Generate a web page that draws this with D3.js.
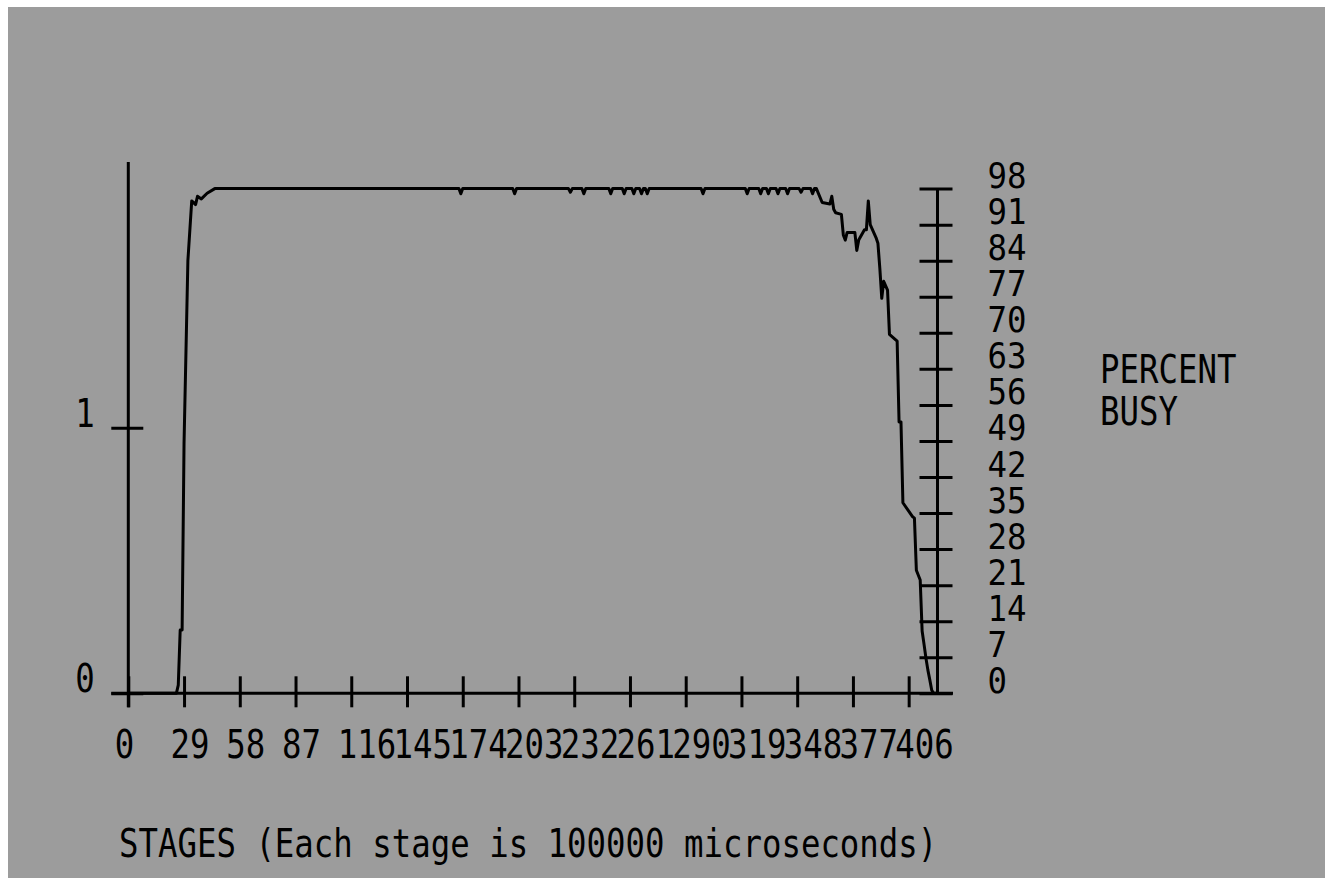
<!DOCTYPE html>
<html>
<head>
<meta charset="utf-8">
<script src="https://cdn.jsdelivr.net/npm/d3@7"></script>
<style>
html, body {margin: 0; padding: 0; background: #fff;}
svg {display: block;}
text {font-family: "DejaVu Sans Mono", monospace; font-size: 39px; fill: #000;}
.pct text {font-size: 36px;}
</style>
</head>
<body>
<svg id="chart" width="1333" height="885"></svg>
<script>
//tick values
var stageTicks = [0, 29, 58, 87, 116, 145, 174, 203, 232, 261, 290, 319, 348, 377, 406];
var percentTicks = [0, 7, 14, 21, 28, 35, 42, 49, 56, 63, 70, 77, 84, 91, 98];
var leftTicks = [0, 1];

//start of run: ramp up to the plateau
var rampStage = [0, 25, 26, 27, 28, 29, 31, 33, 35, 36, 38, 41, 45];
var rampBusy  = [0, 0, 1.6, 12.3, 12.3, 48.6, 84, 95.6, 94.9, 96.5, 96, 97.1, 98];

//plateau level and the small dips on it
var plateauBusy = 98;
var dipStage = [173, 201, 230, 237, 251, 258, 263, 267, 270, 299, 322, 329, 333, 338, 343, 350, 356];
var dipBusy  = [97, 97, 97.3, 97, 97, 97, 97, 97, 97, 97, 97, 97, 97, 97, 97, 97.3, 97];

//end of run: decline
var tailStage = [358, 361, 365, 366, 367, 368, 371, 372, 373, 374,
                 378, 379, 380, 383, 384, 385, 386, 389, 390, 391,
                 392, 393, 395, 396, 400, 401, 402, 403, 408, 409,
                 410, 412, 413, 414, 415, 416, 417, 418, 419, 421];
var tailBusy  = [98, 95.3, 95, 96.5, 94, 93.3, 93, 89, 88, 89.5,
                 89.5, 86, 88, 90, 90, 95.6, 91, 88.5, 87.4, 82.5,
                 76.7, 80, 78.3, 69.7, 68.4, 52.7, 52.7, 37, 34.3, 34,
                 23.9, 22, 12.1, 9.5, 6.8, 4.5, 2.6, 0.6, 0, 0];

var lastStage = 421;
var sx = 0.83; //horizontal squeeze for the narrow terminal font

var svg = d3.select('#chart');

//gray panel
svg.append('rect')
    .attr('x', 8).attr('y', 7)
    .attr('width', 1317).attr('height', 871)
    .attr('fill', '#9c9c9c');

//scales
var x = d3.scaleLinear().domain([0, lastStage]).range([128.3, 937.5]);
var yPct = d3.scaleLinear().domain([0, 98]).range([693.3, 188.6]);
var yLeft = d3.scaleLinear().domain([0, 2]).range([693.3, 162]);

//build line points
var points = rampStage.map((s, i) => [s, rampBusy[i]]);
dipStage.forEach(function(s, i){
  points.push([s - 1, plateauBusy], [s, dipBusy[i]], [s + 1, plateauBusy]);
});
tailStage.forEach((s, i) => points.push([s, tailBusy[i]]));

//x axis
var xAxis = svg.append('g')
    .attr('transform', `translate(0, ${yPct(0)})`)
    .call(d3.axisBottom(x).tickValues(stageTicks).tickFormat(d3.format('d')));
xAxis.select('.domain').remove();
xAxis.selectAll('.tick line')
    .attr('y1', -17).attr('y2', 14)
    .attr('stroke', '#000').attr('stroke-width', 3);
xAxis.selectAll('.tick text')
    .attr('y', null).attr('dy', null)
    .attr('text-anchor', 'start')
    .attr('transform', `translate(-14, 65) scale(${sx}, 1)`);
svg.append('line')
    .attr('x1', x(0) - 17).attr('x2', x(lastStage) + 15.5)
    .attr('y1', yPct(0)).attr('y2', yPct(0))
    .attr('stroke', '#000').attr('stroke-width', 3);

//left axis
var leftAxis = svg.append('g')
    .attr('transform', `translate(${x(0)}, 0)`)
    .call(d3.axisLeft(yLeft).tickValues(leftTicks).tickFormat(d3.format('d')));
leftAxis.select('.domain').remove();
leftAxis.selectAll('.tick line')
    .attr('x1', -17).attr('x2', 15)
    .attr('stroke', '#000').attr('stroke-width', 3);
leftAxis.selectAll('.tick text')
    .attr('x', null).attr('dy', null)
    .attr('text-anchor', 'start')
    .attr('transform', `translate(-53, -1.5) scale(${sx}, 1)`);
svg.append('line')
    .attr('x1', x(0)).attr('x2', x(0))
    .attr('y1', yLeft(2)).attr('y2', yPct(0) + 14)
    .attr('stroke', '#000').attr('stroke-width', 3);

//right axis, percent busy
var rightAxis = svg.append('g')
    .attr('class', 'pct')
    .attr('transform', `translate(${x(lastStage)}, 0)`)
    .call(d3.axisRight(yPct).tickValues(percentTicks).tickFormat(d3.format('d')));
rightAxis.select('.domain').remove();
rightAxis.selectAll('.tick line')
    .attr('x1', -18).attr('x2', 15)
    .attr('stroke', '#000').attr('stroke-width', 3);
rightAxis.selectAll('.tick text')
    .attr('x', null).attr('dy', null)
    .attr('text-anchor', 'start')
    .attr('transform', `translate(50, -1) scale(0.9, 1)`);
svg.append('line')
    .attr('x1', x(lastStage)).attr('x2', x(lastStage))
    .attr('y1', yPct(98)).attr('y2', yPct(0))
    .attr('stroke', '#000').attr('stroke-width', 3);

//busy line
svg.append('path')
    .datum(points)
    .attr('fill', 'none')
    .attr('stroke', '#000')
    .attr('stroke-width', 3)
    .attr('stroke-linejoin', 'round')
    .attr('d', d3.line().x(d => x(d[0])).y(d => yPct(d[1])));

//titles
function label(px, py, txt){
  svg.append('text')
      .attr('transform', `translate(${px}, ${py}) scale(${sx}, 1)`)
      .text(txt);
}
label(1100, 383, 'PERCENT');
label(1100, 425, 'BUSY');
label(119, 857, 'STAGES (Each stage is 100000 microseconds)');
</script>
</body>
</html>
